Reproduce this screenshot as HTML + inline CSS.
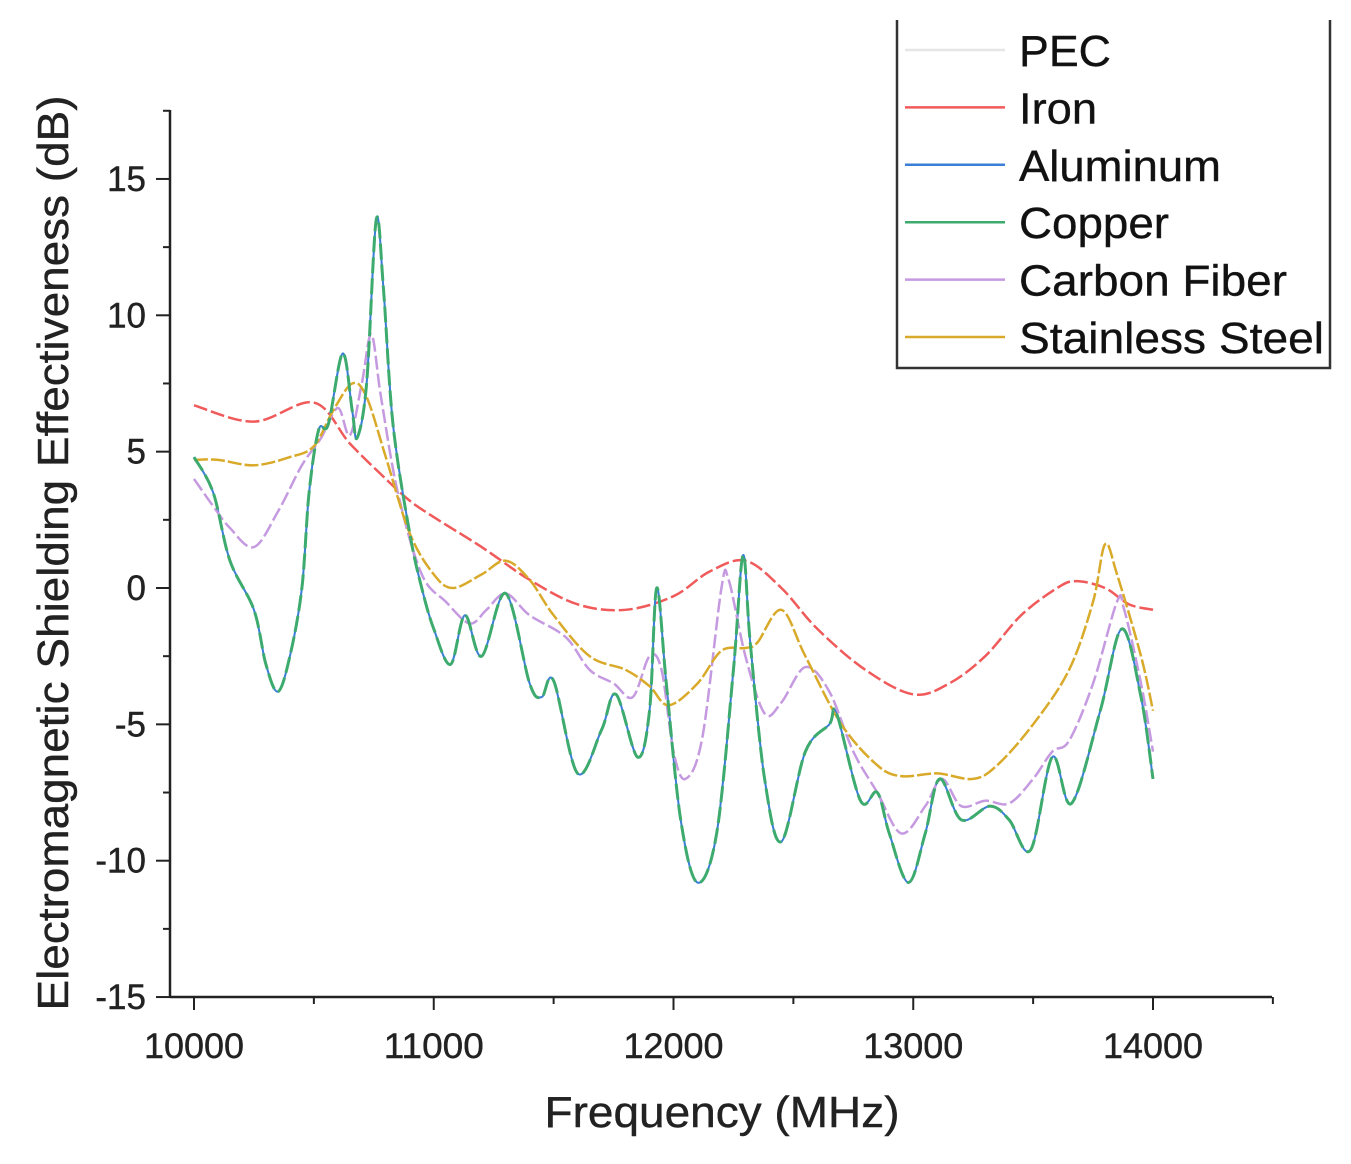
<!DOCTYPE html>
<html><head><meta charset="utf-8"><style>
html,body{margin:0;padding:0;background:#fff;}
svg{display:block;font-family:"Liberation Sans",Arial,sans-serif;}
text{stroke:#222;stroke-width:0.4;}
</style></head><body>
<svg id="chart" width="1351" height="1164" viewBox="0 0 1351 1164" xmlns="http://www.w3.org/2000/svg">
<g id="axes"></g>
<g id="series"></g>
<g id="legend"></g>
</svg>
<script>
const xTicks=[10000,11000,12000,13000,14000];
const yTicks=[15,10,5,0,-5,-10,-15];
const ironF=[10000,10250,10500,10650,10800,10900,11000,11200,11400,11600,11800,12000,12150,12300,12450,12600,12800,13000,13150,13300,13450,13600,13680,13800,13900,14000];
const ironV=[6.7,6.1,6.8,5.3,4.0,3.2,2.6,1.5,0.3,-0.6,-0.8,-0.3,0.6,1.0,0.0,-1.5,-3.0,-3.9,-3.5,-2.5,-1.0,0.0,0.25,0.0,-0.6,-0.8];
const steelF=[10000,10100,10250,10400,10500,10580,10660,10720,10800,10900,11000,11080,11200,11300,11400,11500,11650,11800,11900,11980,12100,12200,12300,12350,12450,12550,12700,12850,12950,13100,13250,13350,13500,13650,13750,13800,13850,13950,14000];
const steelV=[4.7,4.7,4.5,4.8,5.2,6.5,7.5,7.0,4.8,2.0,0.5,0.0,0.5,1.0,0.3,-1.0,-2.5,-3.0,-3.6,-4.3,-3.5,-2.3,-2.2,-2.0,-0.8,-2.5,-5.0,-6.5,-6.9,-6.8,-7.0,-6.5,-5.0,-3.0,-0.5,1.6,0.5,-2.5,-4.5];
const carbonF=[10000,10080,10150,10250,10350,10450,10530,10600,10650,10700,10740,10780,10850,10950,11050,11150,11220,11300,11400,11550,11650,11750,11830,11900,11950,12000,12050,12120,12200,12230,12300,12380,12450,12550,12650,12750,12850,12950,13050,13120,13200,13300,13400,13500,13580,13650,13750,13850,13880,13950,14000];
const carbonV=[4.0,3.0,2.2,1.5,2.8,4.5,5.5,6.6,5.6,7.5,9.3,7.0,3.5,0.5,-0.5,-1.3,-0.8,-0.2,-1.0,-1.8,-3.0,-3.5,-4.0,-2.5,-3.0,-6.0,-7.0,-5.5,0.0,0.3,-2.5,-4.6,-4.2,-2.9,-3.8,-6.0,-7.5,-9.0,-8.0,-7.0,-8.0,-7.8,-7.9,-7.0,-6.0,-5.6,-3.5,-0.5,-0.8,-3.5,-6.0];
const copperF=[10000,10080,10150,10250,10300,10350,10400,10450,10480,10520,10560,10620,10660,10680,10720,10760,10790,10830,10900,10950,11000,11070,11130,11200,11300,11400,11450,11500,11600,11700,11760,11850,11900,11930,11970,12030,12100,12180,12250,12290,12320,12380,12450,12550,12650,12680,12780,12850,12900,12980,13050,13110,13200,13320,13400,13490,13580,13660,13780,13870,13950,14000];
const copperV=[4.8,3.5,1.0,-0.8,-2.8,-3.8,-2.5,0.0,3.5,5.8,6.0,8.6,6.5,5.5,7.5,13.5,11.0,6.0,2.0,0.0,-1.5,-2.8,-1.0,-2.5,-0.2,-3.5,-4.0,-3.4,-6.8,-5.2,-3.9,-6.2,-4.5,0.0,-3.5,-8.5,-10.8,-9.0,-3.0,1.2,-2.0,-7.0,-9.3,-6.0,-5.0,-4.6,-7.8,-7.5,-9.0,-10.8,-9.0,-7.0,-8.5,-8.0,-8.5,-9.6,-6.2,-7.9,-4.5,-1.5,-4.0,-7.0];
const legendNames=["PEC","Iron","Aluminum","Copper","Carbon Fiber","Stainless Steel"];
const legendColors=["#e6e6e6","#f05a5a","#3a7fd5","#3daa6e","#c59ae0","#d9aa2a"];
const legendWidths=[92,78,202,150,268,305];

const NS="http://www.w3.org/2000/svg";
const X0=170,X1=1272,YB=997,YT=110;
const sx=f=>194+(f-10000)*0.23975;
const sy=v=>588-v*27.27;
function mk(tag,attrs,parent){const e=document.createElementNS(NS,tag);for(const k in attrs)e.setAttribute(k,attrs[k]);parent.appendChild(e);return e;}
const axes=document.getElementById('axes');
let e=mk('line',{x1:X0,y1:YB,x2:X1,y2:YB,stroke:'#222','stroke-width':2.5},axes);


e=mk('line',{x1:X0,y1:YT,x2:X0,y2:YB,stroke:'#222','stroke-width':2.5},axes);


for(let f=10000;f<=14500;f+=500){const maj=f%1000===0;mk('line',{x1:sx(f),y1:YB,x2:sx(f),y2:YB+(maj?13:7),stroke:'#222','stroke-width':2},axes);}
xTicks.forEach(f=>{const t=mk('text',{x:sx(f),y:1058,'font-size':35,'text-anchor':'middle',fill:'#222',textLength:100,lengthAdjust:'spacingAndGlyphs'},axes);t.textContent=f;

});
for(let v=-15;v<=17.5;v+=2.5){const maj=v%5===0;mk('line',{x1:X0,y1:sy(v),x2:X0-(maj?14:7),y2:sy(v),stroke:'#222','stroke-width':2},axes);}
yTicks.forEach(v=>{const t=mk('text',{x:146,y:sy(v)+12,'font-size':35,'text-anchor':'end',fill:'#222'},axes);t.textContent=v;

});
let xt=mk('text',{x:722,y:1127,'font-size':44,'text-anchor':'middle',fill:'#222',textLength:355,lengthAdjust:'spacingAndGlyphs'},axes);xt.textContent='Frequency (MHz)';


let yt=mk('text',{x:0,y:0,'font-size':44,'text-anchor':'middle',fill:'#222',textLength:915,lengthAdjust:'spacingAndGlyphs',transform:'translate(68,553) rotate(-90)'},axes);yt.textContent='Electromagnetic Shielding Effectiveness (dB)';



function pathD(F,V){const p=F.map((f,i)=>[sx(f),sy(V[i])]);let d='M'+p[0][0]+','+p[0][1];
for(let i=0;i<p.length-1;i++){const a=p[Math.max(0,i-1)],b=p[i],c=p[i+1],dd=p[Math.min(p.length-1,i+2)];
const c1=[b[0]+(c[0]-a[0])/6,b[1]+(c[1]-a[1])/6],c2=[c[0]-(dd[0]-b[0])/6,c[1]-(dd[1]-b[1])/6];
d+=' C'+c1+' '+c2+' '+c;}return d;}
const ser=document.getElementById('series');
function draw(F,V,col,name,dash,w){const p=mk('path',{d:pathD(F,V),fill:'none',stroke:col,'stroke-width':w,'stroke-dasharray':dash},ser);

}
draw(copperF,copperV,legendColors[0],'pec-line','none',2);
draw(ironF,ironV,legendColors[1],'iron-line','14 4',2.5);
draw(copperF,copperV,legendColors[2],'aluminum-line','none',2);
draw(carbonF,carbonV,legendColors[4],'carbon-fiber-line','14 4',2.5);
draw(steelF,steelV,legendColors[5],'stainless-steel-line','14 3',2.5);
draw(copperF,copperV,legendColors[3],'copper-line','16 5',3);

const lg=document.getElementById('legend');
let box=mk('path',{d:'M897,20 L897,368 L1330,368 L1330,20',fill:'none',stroke:'#333','stroke-width':2.5},lg);


legendNames.forEach((n,i)=>{const y=50+i*57.4;
const l=mk('line',{x1:905,y1:y,x2:1005,y2:y,stroke:legendColors[i],'stroke-width':2.5},lg);


const t=mk('text',{x:1019,y:y+16,'font-size':44,fill:'#111',textLength:legendWidths[i],lengthAdjust:'spacingAndGlyphs'},lg);t.textContent=n;

});
</script>
</body></html>
